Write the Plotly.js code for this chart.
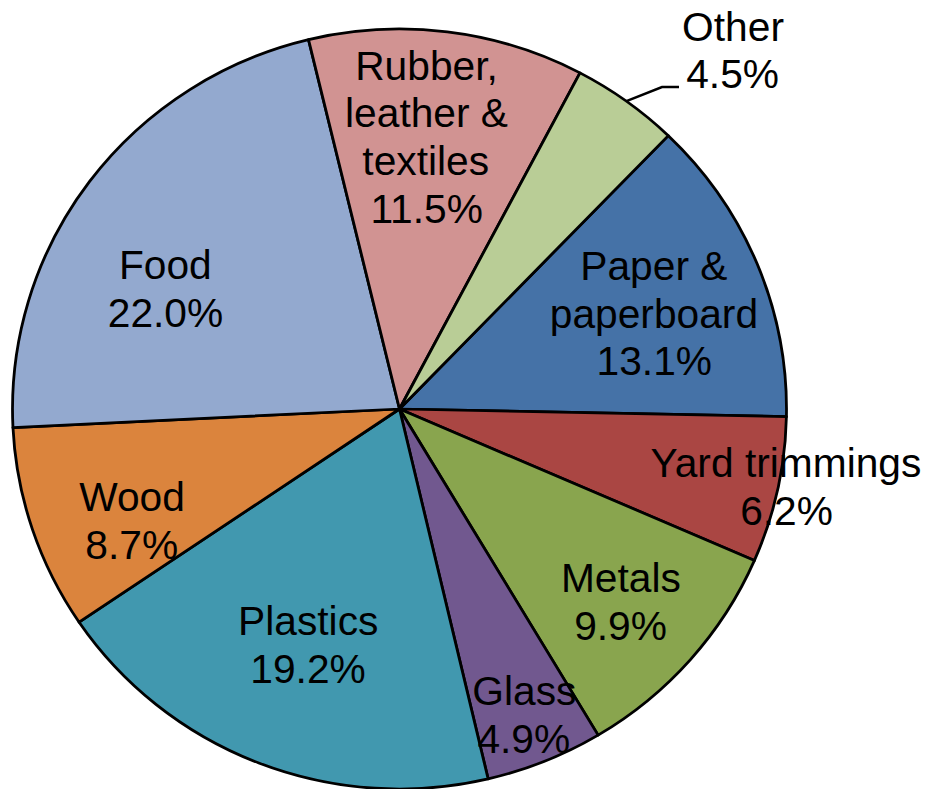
<!DOCTYPE html>
<html>
<head>
<meta charset="utf-8">
<script src="https://cdn.plot.ly/plotly-3.0.1.min.js"></script>
<style>
html,body{margin:0;padding:0;overflow:hidden;background:#fff}
#chart{width:941px;height:789px;transform:scaleX(1.0184);transform-origin:399.5px 0}
</style>
</head>
<body>
<div id="chart"></div>
<script>
// ---- data ----
const categories = ['Paper & paperboard', 'Yard trimmings', 'Metals', 'Glass', 'Plastics', 'Wood', 'Food', 'Rubber, leather & textiles', 'Other'];
const labelText = ['Paper &<br>paperboard', 'Yard trimmings', 'Metals', 'Glass', 'Plastics', 'Wood', 'Food', 'Rubber,<br>leather &<br>textiles', 'Other'];
const values = [13.1, 6.2, 9.9, 4.9, 19.2, 8.7, 22.0, 11.5, 4.5];

// ---- style ----
const colors = ['#4572A7', '#AA4643', '#89A54E', '#71588F', '#4198AF', '#DB843D', '#93A9CF', '#D19392', '#B9CD96'];
const W = 941, H = 789;
const SX = 1.0184;           // horizontal stretch of the whole figure
const CX = 399.5, CY = 409, R = 380;
const ROT = 44;
const FONT = 'Liberation Sans, Arial, sans-serif';
const FS = 40, LINE = 47.5;
// label anchor: [centre x (px, on screen), first baseline (px)]
const labelPos = [[654, 280], [786, 477], [621, 592], [524, 705], [308, 635], [132, 511], [165, 279], [426, 80], [733, 40.5]];
const otherIdx = 8;
const leaderElbow = [[662, 87], [679, 87]];

const px = x => (CX + (x - CX) / SX) / W;
const py = y => 1 - y / H;

const trace = {
  type: 'pie',
  values: values,
  labels: categories,
  sort: false,
  direction: 'clockwise',
  rotation: ROT,
  textinfo: 'none',
  hoverinfo: 'label+percent',
  marker: {colors: colors, line: {color: '#000000', width: 2.75}},
  domain: {x: [(CX - R) / W, (CX + R) / W], y: [1 - (CY + R) / H, 1 - (CY - R) / H]},
  showlegend: false
};

const total = values.reduce((a, b) => a + b, 0);
const annotations = [];
values.forEach((v, i) => {
  const lines = labelText[i].split('<br>').concat([v.toFixed(1) + '%']);
  const [x, b] = labelPos[i];
  lines.forEach((t, j) => {
    annotations.push({
      xref: 'paper', yref: 'paper', x: px(x), y: py(b + j * LINE - 14),
      xanchor: 'center', yanchor: 'middle', showarrow: false, text: t,
      font: {family: FONT, size: FS, color: '#000000'}
    });
  });
});

// leader line for "Other": starts at the slice's mid-angle on the rim
let cum = 0;
for (let i = 0; i < otherIdx; i++) cum += values[i];
const mid = (ROT + (cum + values[otherIdx] / 2) / total * 360) * Math.PI / 180;
const sx = CX + R * Math.sin(mid), sy = CY - R * Math.cos(mid);
const toPx = (x) => CX + (x - CX) / SX;
const path = 'M ' + (sx / W) + ' ' + py(sy) +
  ' L ' + (toPx(leaderElbow[0][0]) / W) + ' ' + py(leaderElbow[0][1]) +
  ' L ' + (toPx(leaderElbow[1][0]) / W) + ' ' + py(leaderElbow[1][1]);

const layout = {
  width: W, height: H,
  margin: {l: 0, r: 0, t: 0, b: 0},
  paper_bgcolor: '#ffffff',
  showlegend: false,
  annotations: annotations,
  shapes: [{type: 'path', xref: 'paper', yref: 'paper', path: path, line: {color: '#000000', width: 2.5}}]
};

Plotly.newPlot('chart', [trace], layout, {displayModeBar: false, staticPlot: true});
</script>
</body>
</html>
